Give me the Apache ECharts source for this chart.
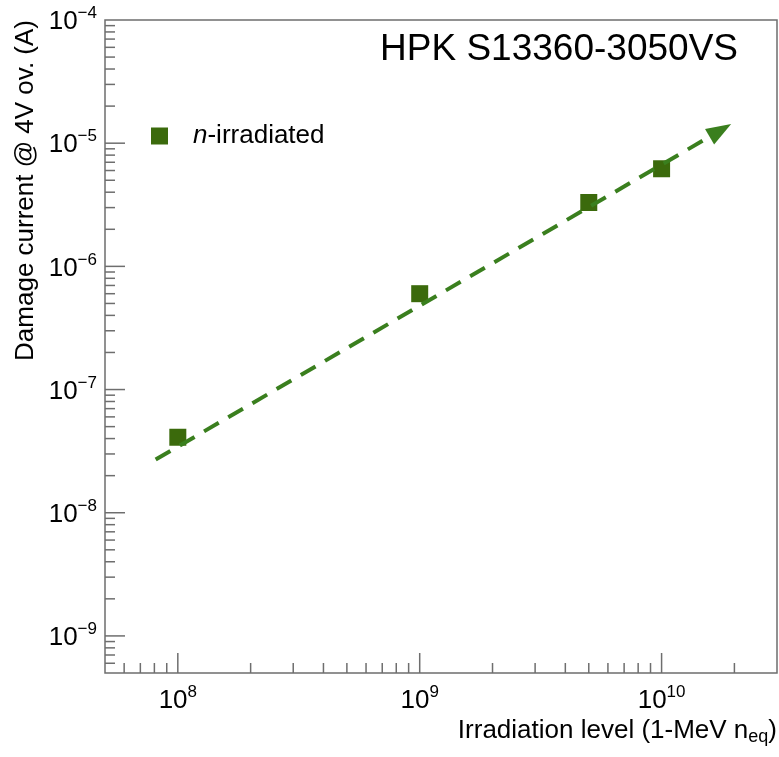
<!DOCTYPE html>
<html>
<head>
<meta charset="utf-8">
<script src="https://cdn.jsdelivr.net/npm/echarts@6/dist/echarts.min.js"></script>
<style>
  html, body { margin: 0; padding: 0; background: #fff; }
  #chart { width: 779px; height: 757px; }
</style>
</head>
<body>
<div id="chart"></div>
<script>
// measured points
const irradiation = [1e8, 1e9, 5e9, 1e10]
const damageCurrent = [4.1e-8, 6.0e-7, 3.3e-6, 6.2e-6]

// fitted trend (start, end of arrow)
const fitX = [8.1e7, 1.75e10]
const fitY = [2.7e-8, 1.27e-5]

// axis ranges and labelled decades
const xRange = [5e7, 3e10]
const yRange = [5e-10, 1e-4]
const xTickExps = [8, 9, 10]
const yTickExps = [-9, -8, -7, -6, -5, -4]

const FONT = 'Liberation Sans, Arial, Helvetica, sans-serif'
const markerColor = '#3b6a0c'
const fitColor = '#3a7f1e'
const frameColor = '#6e6e6e'

// tick positions for a log axis: 1..9 x 10^n inside the range
const logTicks = (lo, hi) => {
  const out = []
  for (let e = Math.floor(Math.log10(lo)); e <= Math.ceil(Math.log10(hi)); e++) {
    for (let m = 1; m <= 9; m++) {
      const v = m * Math.pow(10, e)
      if (v > lo * 1.0001 && v < hi * 0.9999) out.push({ v, major: m === 1 })
    }
  }
  return out
}

const expLabel = (exps) => (val) => {
  const l = Math.log10(val)
  const e = exps.find((x) => Math.abs(x - l) < 1e-6)
  if (e === undefined) return ''
  return '{b|10}{s|' + String(e).replace('-', '\u2212') + '}'
}

const supRich = {
  b: { fontSize: 26, fontFamily: FONT, color: '#000', lineHeight: 30, verticalAlign: 'bottom' },
  s: { fontSize: 17, fontFamily: FONT, color: '#000', lineHeight: 18, verticalAlign: 'top' }
}

const xt = logTicks(xRange[0], xRange[1])
const yt = logTicks(yRange[0], yRange[1])

const chart = echarts.init(document.getElementById('chart'))
chart.setOption({
  animation: false,
  backgroundColor: '#fff',
  title: [
    {
      text: 'HPK S13360-3050VS',
      right: 36,
      top: 26,
      textStyle: { fontSize: 37, fontWeight: 'normal', fontFamily: FONT, color: '#000' }
    },
    {
      // x axis title, right aligned to the frame
      text: '{t|Irradiation level (1-MeV n}{sub|eq}{t|)}',
      right: 2,
      top: 718,
      padding: 0,
      textStyle: {
        fontWeight: 'normal',
        rich: {
          t: { fontSize: 26, fontWeight: 'normal', fontFamily: FONT, color: '#000', lineHeight: 28, verticalAlign: 'top' },
          sub: { fontSize: 18, fontWeight: 'normal', fontFamily: FONT, color: '#000', lineHeight: 18, verticalAlign: 'bottom', padding: [32, 0, 0, 0] }
        }
      }
    }
  ],
  legend: {
    data: ['n-irradiated'],
    left: 151,
    top: 123,
    padding: 0,
    itemWidth: 17,
    itemHeight: 17,
    icon: 'rect',
    selectedMode: false,
    formatter: () => '{i|n}{r|-irradiated}',
    textStyle: {
      padding: [0, 0, 0, 20],
      rich: {
        i: { fontSize: 26, fontStyle: 'italic', fontFamily: FONT, color: '#000' },
        r: { fontSize: 26, fontFamily: FONT, color: '#000' }
      }
    }
  },
  grid: {
    left: 105,
    right: 2,
    top: 20,
    bottom: 84,
    outerBoundsMode: 'none',
    containLabel: false,
    show: true,
    borderColor: frameColor,
    borderWidth: 1.5
  },
  xAxis: {
    type: 'log',
    logBase: 10,
    min: xRange[0],
    max: xRange[1],
    axisLine: { show: false },
    axisTick: { show: false },
    splitLine: { show: false },
    axisLabel: { margin: 11, formatter: expLabel(xTickExps), rich: supRich }
  },
  yAxis: {
    type: 'log',
    logBase: 10,
    min: yRange[0],
    max: yRange[1],
    name: 'Damage current @ 4V ov. (A)',
    nameLocation: 'end',
    nameRotate: 90,
    nameGap: 0,
    nameTextStyle: {
      align: 'right',
      verticalAlign: 'bottom',
      padding: [0, 0, 66, 0],
      fontSize: 26,
      fontFamily: FONT,
      color: '#000'
    },
    axisLine: { show: false },
    axisTick: { show: false },
    splitLine: { show: false },
    axisLabel: { margin: 8, formatter: expLabel(yTickExps), rich: supRich }
  },
  series: [
    {
      type: 'custom',
      silent: true,
      data: xt.map((t) => [t.v, yRange[0], t.major ? 1 : 0]),
      renderItem: (params, api) => {
        const p = api.coord([api.value(0), yRange[0]])
        const len = api.value(2) ? 20 : 10
        return {
          type: 'line',
          shape: { x1: p[0], y1: p[1], x2: p[0], y2: p[1] - len },
          style: { stroke: frameColor, lineWidth: 1.5 }
        }
      }
    },
    {
      type: 'custom',
      silent: true,
      data: yt.map((t) => [xRange[0], t.v, t.major ? 1 : 0]),
      renderItem: (params, api) => {
        const p = api.coord([xRange[0], api.value(1)])
        const len = api.value(2) ? 20 : 10
        return {
          type: 'line',
          shape: { x1: p[0], y1: p[1], x2: p[0] + len, y2: p[1] },
          style: { stroke: frameColor, lineWidth: 1.5 }
        }
      }
    },
    {
      name: 'n-irradiated',
      type: 'scatter',
      symbol: 'rect',
      symbolSize: 17,
      z: 3,
      itemStyle: { color: markerColor, opacity: 1 },
      data: irradiation.map((x, i) => [x, damageCurrent[i]])
    },
    {
      name: 'fit',
      type: 'line',
      z: 4,
      symbol: 'none',
      silent: true,
      lineStyle: { color: fitColor, width: 4, type: [17, 11], opacity: 1 },
      data: fitX.map((x, i) => [x, fitY[i]])
    },
    {
      id: 'arrow',
      name: 'arrow',
      type: 'scatter',
      z: 5,
      silent: true,
      symbol: 'triangle',
      symbolSize: [18, 25],
      itemStyle: { color: fitColor, opacity: 1 },
      data: [[fitX[1], fitY[1]]]
    }
  ]
})

// point the arrow head along the fit line
const p1 = chart.convertToPixel({ gridIndex: 0 }, [fitX[0], fitY[0]])
const p2 = chart.convertToPixel({ gridIndex: 0 }, [fitX[1], fitY[1]])
const angle = Math.atan2(p1[1] - p2[1], p2[0] - p1[0]) * 180 / Math.PI
chart.setOption({ series: [{ id: 'arrow', symbolRotate: angle - 90 }] })
</script>
</body>
</html>
